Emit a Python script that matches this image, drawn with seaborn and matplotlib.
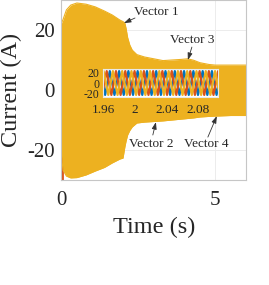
import matplotlib
matplotlib.use("Agg")
import matplotlib.pyplot as plt
import seaborn as sns
import pandas as pd

# ---------------- data ----------------
# envelope of the three-phase currents (main axes)
env_t = [0, 0.05, 0.16, 0.3, 0.5, 0.8, 1.1, 1.4, 1.65, 1.9, 2.0, 2.06, 2.1, 2.15,
         2.22, 2.3, 2.45, 2.7, 3.0, 3.3, 3.6, 3.9, 4.1, 4.3, 4.5, 4.8, 5.0, 5.5, 6.0]
env_upper = [22.3, 23.5, 26.7, 28.3, 29.0, 28.6, 27.7, 26.3, 25.0, 23.3, 22.8, 22.3,
             20.5, 17.5, 15.0, 13.3, 11.8, 11.0, 10.4, 9.8, 10.0, 10.2, 10.4, 9.9,
             9.1, 8.5, 8.3, 8.3, 8.3]
env_lower = [-22.0, -26.7, -28.7, -29.3, -29.2, -28.3, -27.0, -25.8, -24.3, -23.0,
             -22.7, -19.0, -17.0, -15.0, -13.5, -12.3, -11.0, -10.7, -10.5, -10.3,
             -10.0, -9.7, -9.5, -9.3, -9.0, -8.8, -8.7, -8.5, -8.5]
# start-up spike of phase b
red_spike_t = [0.02, 0.02]
red_spike_i = [-20.0, -31.0]

# zoomed window: extrema of each phase current
ph_a_t = [1.9565, 1.9623, 1.9682, 1.9741, 1.9800, 1.9858, 1.9917, 1.9976, 2.0034,
          2.0093, 2.0152, 2.0210, 2.0269, 2.0328, 2.0386, 2.0445, 2.0504, 2.0563,
          2.0621, 2.0680, 2.0739, 2.0797, 2.0856, 2.0915, 2.0973, 2.1032, 2.1091]
ph_a_i = [23, -23, 23, -23, 23, -23, 23, -23, 23, -23, 23, -23, 23, -23, 23, -23,
          23, -23, 23, -23, 23, -23, 23, -23, 23, -23, 23]
ph_b_t = [1.9584, 1.9643, 1.9702, 1.9760, 1.9819, 1.9878, 1.9936, 1.9995, 2.0054,
          2.0113, 2.0171, 2.0230, 2.0289, 2.0347, 2.0406, 2.0465, 2.0523, 2.0582,
          2.0641, 2.0700, 2.0758, 2.0817, 2.0876, 2.0934, 2.0993, 2.1052, 2.1110]
ph_b_i = [-23, 23, -23, 23, -23, 23, -23, 23, -23, 23, -23, 23, -23, 23, -23, 23,
          -23, 23, -23, 23, -23, 23, -23, 23, -23, 23, -23]
ph_c_t = [1.9545, 1.9604, 1.9663, 1.9721, 1.9780, 1.9839, 1.9897, 1.9956, 2.0015,
          2.0074, 2.0132, 2.0191, 2.0250, 2.0308, 2.0367, 2.0426, 2.0484, 2.0543,
          2.0602, 2.0661, 2.0719, 2.0778, 2.0837, 2.0895, 2.0954, 2.1013, 2.1071,
          2.1130]
ph_c_i = [-23, 23, -23, 23, -23, 23, -23, 23, -23, 23, -23, 23, -23, 23, -23, 23,
          -23, 23, -23, 23, -23, 23, -23, 23, -23, 23, -23, 23]

main_xticks = [0, 5]
main_yticks = [-20, 0, 20]
main_ytick_labels = ["-20", "0", "20"]
inset_xticks = [1.96, 2.0, 2.04, 2.08]
inset_xtick_labels = ["1.96", "2", "2.04", "2.08"]
inset_yticks = [-20, 0, 20]
inset_ytick_labels = ["-20", "0", "20"]

annotations = [
    ("Vector 1", (2.35, 26.0), "left", (2.39, 24.0), (2.03, 22.3)),
    ("Vector 3", (4.25, 16.7), "center", (4.24, 14.3), (4.11, 10.0)),
    ("Vector 2", (2.92, -18.0), "center", (2.97, -15.0), (3.07, -10.7)),
    ("Vector 4", (4.71, -18.0), "center", (4.76, -15.7), (5.05, -8.7)),
]

# ---------------- style ----------------
sns.set_theme(style="white")
plt.rcParams["font.family"] = ["Liberation Serif", "DejaVu Serif"]
plt.rcParams["axes.unicode_minus"] = False
TXT = "#262626"
BLUE, RED, YEL = "#0072BD", "#D95319", "#EDB120"
EDGE = "#c6c6c6"

W, H = 269, 285
fig = plt.figure(figsize=(W / 100, H / 100), dpi=100)
ax = fig.add_axes([61.5 / W, 1 - 180 / H, (246 - 61.5) / W, 180 / H])

env = pd.DataFrame({"t": env_t, "up": env_upper, "lo": env_lower})
ax.fill_between(env["t"], env["lo"], env["up"], color=YEL, lw=0, zorder=2)
sns.lineplot(data=env, x="t", y="up", color=YEL, lw=0.8, ax=ax, zorder=2)
sns.lineplot(data=env, x="t", y="lo", color=YEL, lw=0.8, ax=ax, zorder=2)
spike = pd.DataFrame({"t": red_spike_t, "i": red_spike_i})
sns.lineplot(data=spike, x="t", y="i", color=RED, lw=2.0, ax=ax, zorder=1.5,
             estimator=None, sort=False)

ax.set_xlim(0, 6)
ax.set_ylim(-30, 30)
ax.set_xticks(main_xticks)
ax.set_xticklabels([str(v) for v in main_xticks])
ax.set_yticks(main_yticks)
ax.set_yticklabels(main_ytick_labels)
ax.tick_params(axis="both", length=0, labelsize=15, colors=TXT)
ax.tick_params(axis="y", pad=5)
ax.tick_params(axis="x", pad=8)
ax.grid(True, color="#ececec", lw=0.7)
ax.set_axisbelow(True)
for s in ax.spines.values():
    s.set_color(EDGE)
    s.set_linewidth(0.8)
ax.set_xlabel("Time (s)", fontsize=17.5, color=TXT)
ax.set_ylabel("Current (A)", fontsize=17.5, color=TXT)
ax.xaxis.set_label_coords(0.5, -0.205)
ax.yaxis.set_label_coords(-0.215, 0.5)

for text, tpos, ha, tail, tip in annotations:
    ax.text(tpos[0], tpos[1], text, ha=ha, va="center", fontsize=9.5, color=TXT,
            zorder=5)
    ax.annotate("", xy=tip, xytext=tail,
                arrowprops=dict(arrowstyle="-|>,head_length=0.35,head_width=0.12",
                                color="#333333", lw=0.6, shrinkA=0, shrinkB=0),
                zorder=5)

# ---------------- inset ----------------
axi = fig.add_axes([103.3 / W, 1 - 97 / H, (218 - 103.3) / W, 28 / H])
axi.set_facecolor("white")
pa = pd.DataFrame({"t": ph_a_t, "i": ph_a_i})
pb = pd.DataFrame({"t": ph_b_t, "i": ph_b_i})
pc = pd.DataFrame({"t": ph_c_t, "i": ph_c_i})
sns.lineplot(data=pa, x="t", y="i", color=BLUE, lw=1.6, ax=axi, estimator=None)
sns.lineplot(data=pb, x="t", y="i", color=RED, lw=1.6, ax=axi, estimator=None)
sns.lineplot(data=pc, x="t", y="i", color=YEL, lw=1.6, ax=axi, estimator=None)
axi.set_xlim(1.96, 2.105)
axi.set_ylim(-27, 27)
axi.set_xticks(inset_xticks)
axi.set_xticklabels(inset_xtick_labels)
axi.set_yticks(inset_yticks)
axi.set_yticklabels(inset_ytick_labels)
axi.tick_params(axis="y", length=0, labelsize=8.5, colors=TXT, pad=3)
axi.tick_params(axis="x", length=0, labelsize=9.5, colors=TXT, pad=5)
axi.set_xlabel("")
axi.set_ylabel("")
for s in axi.spines.values():
    s.set_color("#e8e8e8")
    s.set_linewidth(0.8)

fig.savefig("out.png", dpi=100)
